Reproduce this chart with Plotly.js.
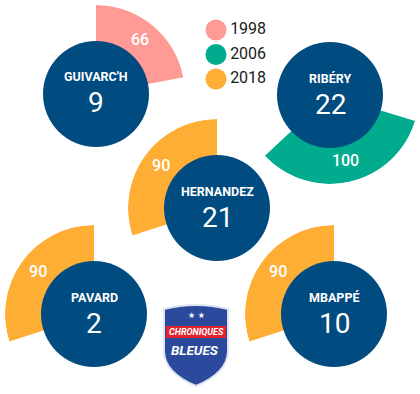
<!DOCTYPE html>
<html><head><meta charset="utf-8">
<script src="https://cdn.plot.ly/plotly-3.0.1.min.js"></script>
<style>html,body{margin:0;padding:0;background:#fff;}#chart{width:420px;height:394px;}</style>
</head><body><div id="chart"></div>
<script>
// ---- data ----
const players = ["GUIVARC'H", "RIBÉRY", "HERNANDEZ", "PAVARD", "MBAPPÉ"];
const shirtNumbers = ["9", "22", "21", "2", "10"];
const minutes = [66, 100, 90, 90, 90];
const years = ["1998", "2006", "2018", "2018", "2018"];
const legendYears = ["1998", "2006", "2018"];

// ---- style / layout ----
const W = 420, H = 394;
const yearColors = {"1998": "#ff9a94", "2006": "#00ab8e", "2018": "#ffae35"};
const navy = "#004b7f";
const degPerMinute = 360 / 300;
const R = 89;          // wedge outer radius (px)
const circleR = 53;    // player circle radius (px)
const layoutPos = [
  {cx: 96,  cy: 94,  rot: 90,  dir: "clockwise",        sector: [0, 360]},
  {cx: 330, cy: 95,  rot: -17, dir: "clockwise",        sector: [0, 360]},
  {cx: 217, cy: 208, rot: 90,  dir: "counterclockwise", sector: [0, 360]},
  {cx: 94,  cy: 314, rot: 90,  dir: "counterclockwise", sector: [90, 200]},
  {cx: 334, cy: 314, rot: 90,  dir: "counterclockwise", sector: [90, 200]}
];

function sectorBBox(s) {
  const pts = [[0, 0]];
  const a0 = s[0], a1 = s[1];
  const angs = [a0, a1];
  for (let a = Math.ceil(a0 / 90) * 90; a <= a1; a += 90) angs.push(a);
  angs.forEach(a => { const r = a * Math.PI / 180; pts.push([Math.cos(r), Math.sin(r)]); });
  const xs = pts.map(p => p[0]), ys = pts.map(p => p[1]);
  return [Math.min(...xs), Math.min(...ys), Math.max(...xs), Math.max(...ys)];
}

const traces = [];
const layout = {
  width: W, height: H,
  margin: {l: 0, r: 0, t: 0, b: 0},
  paper_bgcolor: "#fff", plot_bgcolor: "rgba(0,0,0,0)",
  showlegend: false,
  annotations: [], shapes: []
};

players.forEach((name, i) => {
  const p = layoutPos[i];
  const id = i === 0 ? "polar" : "polar" + (i + 1);
  const bb = sectorBBox(p.sector);
  const x0 = p.cx + R * bb[0], x1 = p.cx + R * bb[2];
  const yTop = p.cy - R * bb[3], yBot = p.cy - R * bb[1];
  layout[id] = {
    domain: {x: [x0 / W, x1 / W], y: [1 - yBot / H, 1 - yTop / H]},
    sector: p.sector,
    bgcolor: "rgba(0,0,0,0)",
    radialaxis: {visible: false, range: [0, 1]},
    angularaxis: {visible: false, rotation: p.rot, direction: p.dir}
  };
  const span = minutes[i] * degPerMinute;
  const col = yearColors[years[i]];
  traces.push({
    type: "barpolar", subplot: id, r: [1], theta: [span / 2], width: [span],
    marker: {color: col, line: {width: 0}}, hoverinfo: "skip"
  });
  traces.push({
    type: "scatterpolar", subplot: id, mode: "text", r: [0.775], theta: [span / 2],
    text: [String(minutes[i])], cliponaxis: false,
    textfont: {family: "Roboto", size: 16, color: "#fff", weight: 500}, hoverinfo: "skip"
  });
  traces.push({
    type: "scatterpolar", subplot: id, mode: "markers", r: [0], theta: [0],
    marker: {size: circleR * 2, color: navy, line: {width: 0}}, cliponaxis: false, hoverinfo: "skip"
  });
  layout.annotations.push({
    xref: "paper", yref: "paper", x: p.cx / W, y: 1 - p.cy / H, yshift: 17,
    xanchor: "center", yanchor: "middle", showarrow: false, text: name,
    font: {family: "Roboto", size: 12.5, color: "#fff", weight: 700}
  });
  layout.annotations.push({
    xref: "paper", yref: "paper", x: p.cx / W, y: 1 - p.cy / H, yshift: -9,
    xanchor: "center", yanchor: "middle", showarrow: false, text: shirtNumbers[i],
    font: {family: "Roboto", size: 28, color: "#fff", weight: 400}
  });
});

// ---- legend (own small axes) ----
const legTop = 17.75, legBot = 91.25, legL = 206, legR = 290;
layout.xaxis = {domain: [legL / W, legR / W], range: [-0.5, 3.7], visible: false, fixedrange: true};
layout.yaxis = {domain: [1 - legBot / H, 1 - legTop / H], type: "category", range: [2.5, -0.5],
  visible: false, fixedrange: true};
traces.push({
  type: "scatter", xaxis: "x", yaxis: "y", x: legendYears.map(() => 0), y: legendYears,
  mode: "markers+text", text: legendYears, textposition: "middle right",
  marker: {size: 21, color: legendYears.map(y => yearColors[y]), line: {width: 0}},
  textfont: {family: "Roboto", size: 16, color: "#1a1a1a", weight: 400},
  cliponaxis: false, hoverinfo: "skip"
});

// ---- logo (pixel axes) ----
layout.xaxis2 = {domain: [0, 1], range: [0, W], visible: false, fixedrange: true};
layout.yaxis2 = {domain: [0, 1], range: [H, 0], visible: false, fixedrange: true};
traces.push({type: "scatter", xaxis: "x2", yaxis: "y2", x: [], y: [], hoverinfo: "skip"});
layout.shapes.push({
  type: "path", xref: "x2", yref: "y2", layer: "above",
  path: "M164,309 Q196,301 228,309 L228,352 Q227,373 196,386 Q165,373 164,352 Z",
  fillcolor: "#2b4a9e", line: {color: "#dfe4ee", width: 2}
});
layout.shapes.push({
  type: "rect", xref: "x2", yref: "y2", layer: "above",
  x0: 166, x1: 226, y0: 326, y1: 338, fillcolor: "#e5232f", line: {width: 0}
});
layout.annotations.push({
  xref: "x2", yref: "y2", x: 196, y: 315.5, showarrow: false, text: "★ ★",
  font: {family: "DejaVu Sans", size: 8, color: "#fff"}
});
layout.annotations.push({
  xref: "x2", yref: "y2", x: 196.5, y: 332, showarrow: false, text: "<i>CHRONIQUES</i>",
  font: {family: "Roboto", size: 9, color: "#fff", weight: 700}
});
layout.annotations.push({
  xref: "x2", yref: "y2", x: 195, y: 349.5, showarrow: false, text: "<i>BLEUES</i>",
  font: {family: "Roboto", size: 13.5, color: "#fff", weight: 700}
});

Plotly.newPlot("chart", traces, layout, {displayModeBar: false, staticPlot: true});
</script></body></html>
